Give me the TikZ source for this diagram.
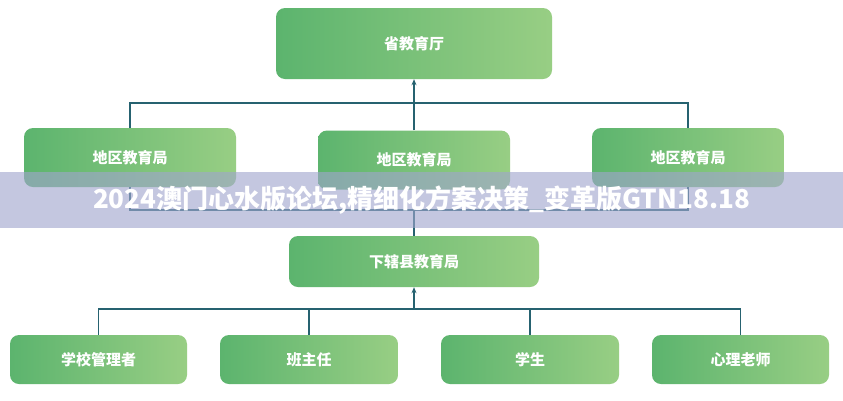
\documentclass[tikz,border=0pt]{standalone}
\usepackage{fontspec}
\newfontfamily\cjk{Noto Sans CJK SC}
\usetikzlibrary{arrows.meta}
\definecolor{gL}{RGB}{92,180,110}
\definecolor{gR}{RGB}{152,206,132}
\definecolor{lineC}{RGB}{38,98,112}
\definecolor{bandC}{RGB}{160,165,205}
\tikzset{
  box/.style={rounded corners=9pt, left color=gL, right color=gR, draw=none,
    text=white, font=\cjk\bfseries\fontsize{15}{17}\selectfont, inner sep=0pt},
  conn/.style={draw=lineC, line width=1.8pt},
  arr/.style={conn, -{Stealth[length=6pt,width=5pt]}}
}
\begin{document}
\begin{tikzpicture}[x=1pt,y=-1pt]
\useasboundingbox[fill=white] (0,0) rectangle (843,400);
% top
\node[box, minimum width=276pt, minimum height=71pt] (top) at (414,43.5) {省教育厅};
% second row
\node[box, minimum width=212pt, minimum height=59pt] (d1) at (130,157.5) {地区教育局};
\node[box, minimum width=192pt, minimum height=59pt] (d2) at (414,160) {地区教育局};
\node[box, minimum width=192pt, minimum height=59pt] (d3) at (688,157.5) {地区教育局};
% county
\node[box, minimum width=250pt, minimum height=51pt] (cty) at (414,261.5) {下辖县教育局};
% bottom row
\node[box, minimum width=177pt, minimum height=49pt] (s1) at (98.5,359.5) {学校管理者};
\node[box, minimum width=178pt, minimum height=49pt] (s2) at (309,359.5) {班主任};
\node[box, minimum width=178pt, minimum height=49pt] (s3) at (530,359.5) {学生};
\node[box, minimum width=177pt, minimum height=49pt] (s4) at (740.5,359.5) {心理老师};
% bus coordinates
\coordinate (bus1) at (414,103);
\coordinate (bus2) at (414,210);
\coordinate (bus3) at (414,309);
% connectors top
\draw[conn] (d1.north) |- (bus1) -| (d3.north);
\draw[arr] (d2.north) -- (top.south);
% connectors middle
\draw[conn] (d1.south) |- (bus2) -| (d3.south);
\draw[conn] (d2.south) -- (cty.north);
% connectors bottom
\draw[conn] (s1.north) |- (bus3) -| (s4.north);
\draw[conn] (s2.north) -- (s2.north |- bus3);
\draw[conn] (s3.north) -- (s3.north |- bus3);
\draw[arr] (bus3) -- (cty.south);
% banner
\fill[bandC, opacity=0.62] (0,172) rectangle (843,228);
\node[text=white, font=\cjk\bfseries\fontsize{26}{30}\selectfont, inner sep=0pt] (title) at (421.5,200) {2024澳门心水版论坛,精细化方案决策\_变革版GTN18.18};
\end{tikzpicture}
\end{document}
